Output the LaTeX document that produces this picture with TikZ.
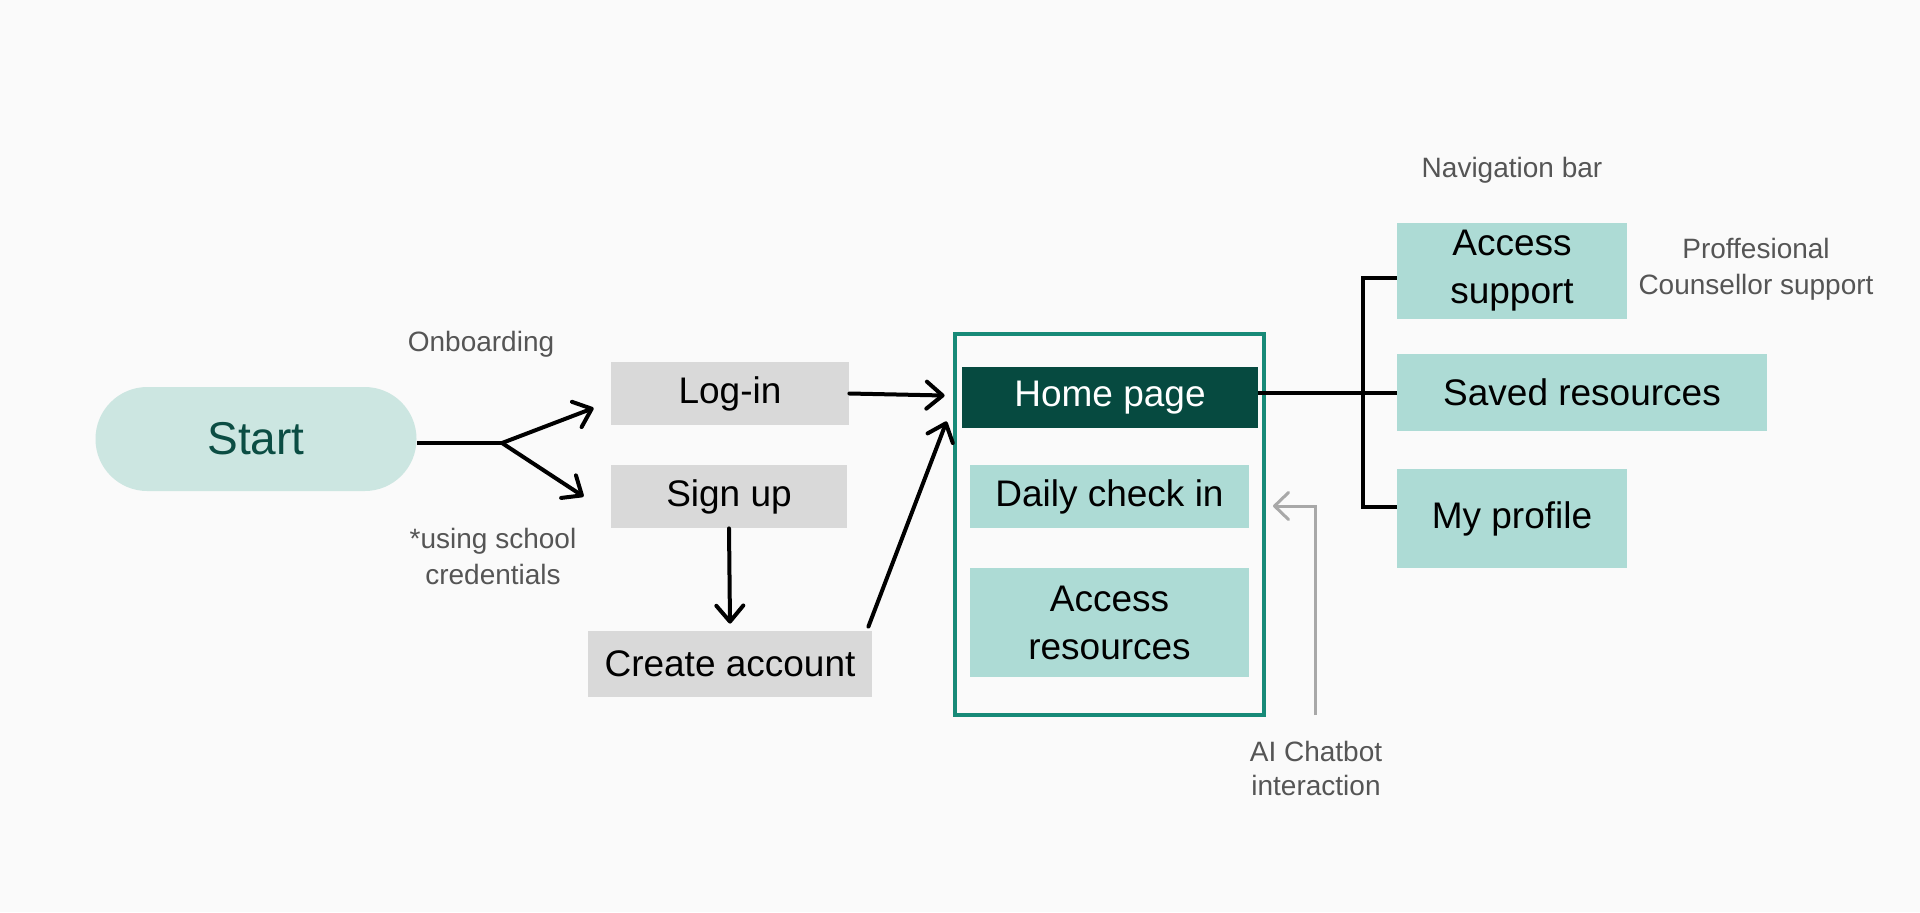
\documentclass[tikz,border=0pt]{standalone}
\usepackage{fontspec}
\setmainfont{Liberation Sans}
\usetikzlibrary{arrows.meta,calc}
\definecolor{bgc}{HTML}{FAFAFA}
\definecolor{startfill}{HTML}{CCE6E1}
\definecolor{starttext}{HTML}{0B4D43}
\definecolor{grayfill}{HTML}{D9D9D9}
\definecolor{tealfill}{HTML}{ADDBD5}
\definecolor{homefill}{HTML}{064A40}
\definecolor{framec}{HTML}{178A78}
\definecolor{labelgray}{HTML}{555555}
\definecolor{arrowgray}{HTML}{A8A8A8}
\begin{document}
\begin{tikzpicture}[x=0.5pt,y=-0.5pt,
  box/.style={rectangle, inner sep=0pt, font=\fontsize{18.5}{24}\selectfont, align=center, text=black},
  graybox/.style={box, fill=grayfill},
  tealbox/.style={box, fill=tealfill},
  lbl/.style={font=\fontsize{14}{18}\selectfont, text=labelgray, align=center, inner sep=0pt},
  conn/.style={line width=2pt, draw=black},
  arr/.style={conn, line cap=round, -{Straight Barb[length=8pt,width=13.5pt,line width=2pt,round]}},
  grayarr/.style={line width=1.5pt, draw=arrowgray, -{Straight Barb[length=7pt,width=13.5pt,line width=1.5pt,round]}}
]
\useasboundingbox (0,0) rectangle (1920,912);
\fill[bgc] (0,0) rectangle (1920,912);

% Start
\node[rectangle, fill=startfill, rounded corners=25.9pt, minimum width=160.5pt, minimum height=52pt, inner sep=0pt,
  text=starttext, font=\fontsize{23}{28}\selectfont] (start) at (256,439) {Start};

% Onboarding column
\node[graybox, minimum width=119pt, minimum height=31.5pt] (login) at (730,393.5) {Log-in};
\node[graybox, minimum width=118pt, minimum height=31.5pt] (signup) at (729,496.5) {Sign up};
\node[graybox, minimum width=142pt, minimum height=33pt] (create) at (730,664) {Create account};

\node[lbl] (onb) at (481,344) {Onboarding};
\node[lbl] (cred) at (493,556) {*using school\\credentials};

% Home frame
\node[draw=framec, line width=2pt, minimum width=154.5pt, minimum height=190.5pt, inner sep=0pt] (frame) at (1109.5,524.5) {};
\node[box, fill=homefill, text=white, minimum width=148pt, minimum height=30.5pt] (home) at (1110,397.5) {Home page};
\node[tealbox, minimum width=139.5pt, minimum height=31.5pt] (daily) at (1109.5,496.5) {Daily check in};
\node[tealbox, minimum width=139.5pt, minimum height=54.5pt] (accres) at (1109.5,622.5) {Access\\resources};

% Navigation bar
\node[lbl] (nav) at (1512,170) {Navigation bar};
\node[tealbox, minimum width=115pt, minimum height=48pt] (accsup) at (1512,271) {Access\\support};
\node[tealbox, minimum width=185pt, minimum height=38.5pt] (saved) at (1582,392) {Saved resources};
\node[tealbox, minimum width=115pt, minimum height=49.5pt] (profile) at (1512,518.5) {My profile};
\node[lbl] (prof) at (1756,269) {Proffesional\\Counsellor support};

% AI chatbot
\node[lbl, font=\fontsize{14}{17}\selectfont] (chatlbl) at (1316,768) {AI Chatbot\\interaction};

% Connectors
\coordinate (fork) at (502,443);
\draw[conn] (start.east |- fork) -- (fork);
\draw[arr] (fork) -- ($(login.west)+(-17,14.5)$);
\draw[arr] (fork) -- ($(signup.west)+(-27,0)$);
\draw[arr] (login.east) -- ($(home.west)+(-17,-2)$);
\draw[arr] (signup.south) -- ($(create.north)+(0,-7)$);
\draw[arr] ($(create.north east)+(-4,-4)$) -- ($(home.south west)+(-15,-7)$);

\draw[conn] ($(home.east)+(0,-4.5)$) -- (saved.west |- {$(home.east)+(0,-4.5)$});
\draw[conn] ($(accsup.west)+(0,7)$) -| (1363,393) |- ($(profile.west)+(0,-11.5)$);

\coordinate (chat) at (1315,715);
\draw[grayarr] (chat) |- ($(frame.east)+(7,-18.5)$);
\end{tikzpicture}
\end{document}
